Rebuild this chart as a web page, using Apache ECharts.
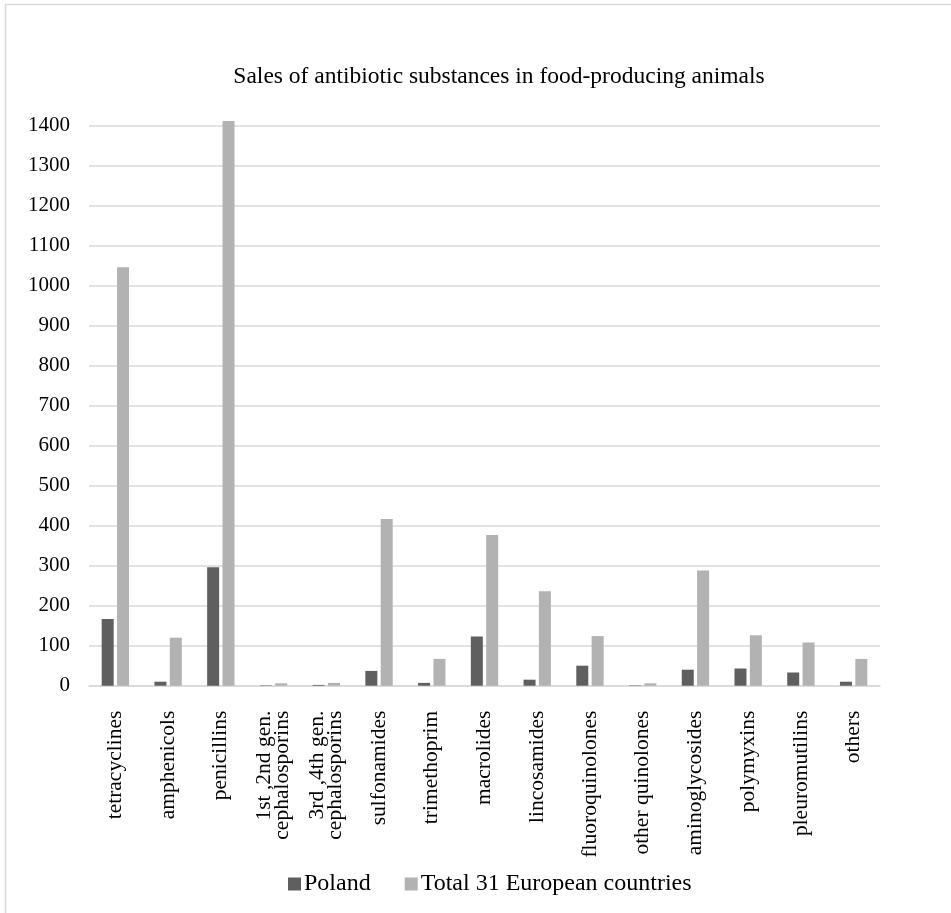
<!DOCTYPE html>
<html>
<head>
<meta charset="utf-8">
<script src="https://cdn.jsdelivr.net/npm/echarts@6/dist/echarts.min.js"></script>
<style>html,body{margin:0;padding:0;background:#fff;}#c{width:951px;height:913px;}</style>
</head>
<body>
<div id="c"></div>
<script>
const categories = ["tetracyclines","amphenicols","penicillins","1st ,2nd gen.\ncephalosporins","3rd ,4th gen.\ncephalosporins","sulfonamides","trimethoprim","macrolides","lincosamides","fluoroquinolones","other quinolones","aminoglycosides","polymyxins","pleuromutilins","others"];
const poland = [167, 10, 296, 1, 2, 37, 7, 123, 15, 50, 1, 40, 43, 33, 10];
const total31 = [1046, 120, 1412, 6, 7, 417, 67, 377, 236, 124, 6, 288, 126, 108, 67];
const yTicks = {min: 0, max: 1400, interval: 100};
const titleText = "Sales of antibiotic substances in food-producing animals";
const seriesNames = ["Poland", "Total 31 European countries"];

const font = "'Liberation Serif','DejaVu Serif',serif";
const chart = echarts.init(document.getElementById('c'), null, {renderer: 'canvas'});
chart.setOption({
  animation: false,
  backgroundColor: '#fff',
  title: {
    text: titleText, left: 494, top: 60, textAlign: 'center',
    textStyle: {fontFamily: font, fontSize: 23.5, fontWeight: 'normal', color: '#000'}
  },
  legend: {
    data: seriesNames, top: 867, left: 283,
    itemWidth: 13, itemHeight: 13, itemGap: 34,
    icon: 'rect',
    textStyle: {fontFamily: font, fontSize: 24, color: '#000', padding: [0, 0, 0, -2]}
  },
  grid: {left: 89, right: 71, top: 125.7, bottom: 227.3, containLabel: false},
  xAxis: {
    type: 'category', data: categories,
    axisLine: {lineStyle: {color: '#d9d9d9', width: 1.5}},
    axisTick: {show: false},
    axisLabel: {rotate: 90, interval: 0, margin: 25, fontFamily: font, fontSize: 21.5, color: '#000', lineHeight: 18}
  },
  yAxis: {
    type: 'value', min: yTicks.min, max: yTicks.max, interval: yTicks.interval,
    axisLine: {show: false}, axisTick: {show: false},
    splitLine: {lineStyle: {color: '#d9d9d9', width: 1.5}},
    axisLabel: {margin: 19, fontFamily: font, fontSize: 21, color: '#000', formatter: v => String(v)}
  },
  series: [
    {name: seriesNames[0], type: 'bar', data: poland, barWidth: 12, barGap: '28%', clip: false,
     itemStyle: {color: '#5f5f5f'}},
    {name: seriesNames[1], type: 'bar', data: total31, barWidth: 12, clip: false,
     itemStyle: {color: '#b2b2b2'}}
  ],
  graphic: [
    {type: 'line', shape: {x1: 5, y1: 4.5, x2: 951, y2: 4.5}, style: {stroke: '#d9d9d9', lineWidth: 1.5}},
    {type: 'line', shape: {x1: 5.5, y1: 4, x2: 5.5, y2: 913}, style: {stroke: '#d9d9d9', lineWidth: 1.5}}
  ]
});
</script>
</body>
</html>
